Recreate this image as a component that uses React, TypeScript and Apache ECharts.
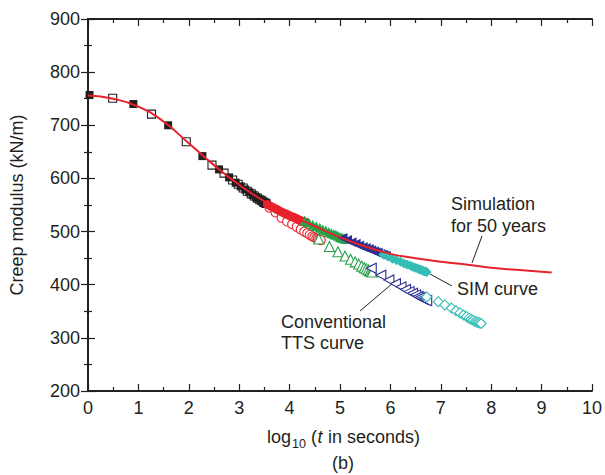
import React, { useEffect, useRef } from "react";
import * as echarts from "echarts";

// ---- data (x = log10 t, y = creep modulus kN/m) ----
const simLine: [number, number][] = [
  [0, 756], [0.5, 750], [1, 735], [1.5, 707], [2, 666], [2.5, 625], [3, 588],
  [3.5, 557], [4, 532], [4.5, 510], [5, 489], [5.5, 472], [6, 458], [6.5, 450],
  [7, 443], [7.5, 438], [8, 432], [8.5, 428], [9, 424.5], [9.2, 423],
];
const blackFilled: [number, number][] = [
  [0.03, 757], [0.9, 740], [1.59, 700], [2.27, 642], [2.6, 617], [2.8, 602],
  [2.93, 592], [3.03, 585], [3.12, 579], [3.2, 574], [3.27, 569], [3.33, 565],
  [3.38, 562], [3.43, 559], [3.47, 556], [3.51, 554], [3.54, 552],
];
const blackOpen: [number, number][] = [
  [0.49, 751], [1.26, 721], [1.95, 669], [2.46, 625], [2.7, 610], [2.87, 597],
  [2.98, 589], [3.08, 582], [3.16, 576], [3.24, 571], [3.3, 567], [3.36, 563],
  [3.41, 560], [3.45, 558], [3.49, 555], [3.53, 553],
];
const redFilled: [number, number][] = [
  [3.56, 551], [3.62, 548], [3.68, 545], [3.74, 542], [3.8, 539], [3.86, 536],
  [3.91, 534], [3.96, 532], [4.0, 530], [4.04, 528], [4.08, 527], [4.12, 525],
  [4.15, 524], [4.18, 522], [4.21, 521], [4.24, 520], [4.27, 519], [4.3, 518], [4.33, 517],
];
const redOpen: [number, number][] = [
  [3.6, 545], [3.72, 536], [3.84, 526], [3.95, 519], [4.05, 514], [4.14, 509],
  [4.22, 504], [4.29, 500], [4.35, 497], [4.4, 494], [4.45, 491], [4.49, 489],
  [4.53, 487], [4.56, 486], [4.59, 485], [4.62, 484],
];
const greenFilled: [number, number][] = [
  [4.3, 521], [4.38, 517], [4.46, 513], [4.53, 510], [4.6, 507], [4.66, 504],
  [4.72, 502], [4.78, 499], [4.83, 497], [4.88, 495], [4.92, 494], [4.96, 492],
  [5.0, 490], [5.03, 489], [5.06, 488], [5.09, 487], [5.12, 486],
];
const greenOpen: [number, number][] = [
  [4.58, 486], [4.79, 472], [4.96, 462], [5.1, 454], [5.21, 448], [5.3, 443],
  [5.37, 439], [5.43, 435], [5.48, 432], [5.52, 430], [5.56, 428], [5.59, 426],
  [5.62, 425], [5.64, 424],
];
const blueFilled: [number, number][] = [
  [5.05, 488], [5.14, 484], [5.23, 480], [5.31, 477], [5.38, 474], [5.45, 471],
  [5.51, 469], [5.57, 467], [5.62, 465], [5.67, 463], [5.71, 461], [5.75, 460],
  [5.79, 458], [5.82, 457], [5.85, 456], [5.88, 455], [5.91, 454],
];
const blueOpen: [number, number][] = [
  [5.62, 431], [5.81, 418], [5.97, 409], [6.1, 402], [6.21, 396], [6.3, 391],
  [6.37, 387], [6.44, 384], [6.5, 381], [6.55, 378], [6.59, 376], [6.63, 374],
  [6.66, 372], [6.69, 371], [6.72, 370],
];
const cyanFilled: [number, number][] = [
  [5.86, 457], [5.95, 453], [6.04, 449], [6.12, 446], [6.2, 443], [6.27, 440],
  [6.33, 438], [6.39, 436], [6.44, 434], [6.49, 432], [6.53, 431], [6.57, 429],
  [6.6, 428], [6.63, 427], [6.66, 426], [6.69, 425], [6.72, 424],
];
const cyanOpen: [number, number][] = [
  [6.72, 377], [6.95, 368], [7.08, 362], [7.21, 356], [7.3, 351], [7.38, 347],
  [7.45, 343], [7.51, 340], [7.56, 337], [7.6, 335], [7.64, 333], [7.68, 331],
  [7.71, 330], [7.74, 329], [7.77, 328], [7.8, 327],
];

const INK = "#231f20";
const RED = "#e8222b";
const GREEN = "#25a24a";
const BLUE = "#2b3090";
const CYAN = "#34bdb4";
const FONT = "Liberation Sans, Arial, sans-serif";

export default function App() {
  const ref = useRef<HTMLDivElement>(null);
  useEffect(() => {
    if (!ref.current) return;
    const chart = echarts.init(ref.current, null, { renderer: "svg" });

    const axisCommon = {
      axisLine: { show: true, lineStyle: { color: INK, width: 1.8 } },
      axisTick: { show: true, inside: true, length: 7, lineStyle: { color: INK, width: 1.2 } },
      minorTick: { show: true, splitNumber: 2, length: 4, lineStyle: { color: INK, width: 1.2 } },
      splitLine: { show: false },
      minorSplitLine: { show: false },
    };

    const filled = (name: string, data: [number, number][], symbol: string, size: number, color: string, rotate = 0) => ({
      name, type: "scatter", data, symbol, symbolSize: size, symbolRotate: rotate,
      itemStyle: { color, opacity: 1 }, z: 2,
    });
    const open = (name: string, data: [number, number][], symbol: string, size: number, color: string, rotate = 0) => ({
      name, type: "scatter", data, symbol, symbolSize: size, symbolRotate: rotate,
      itemStyle: { color: "#ffffff", borderColor: color, borderWidth: 1.1, opacity: 1 }, z: 2,
    });

    chart.setOption({
      animation: false,
      backgroundColor: "#ffffff",
      textStyle: { fontFamily: FONT },
      grid: { left: 87.5, right: 8, top: 19, bottom: 84 },
      xAxis: [
        {
          type: "value", min: 0, max: 10, interval: 1, position: "bottom",
          ...axisCommon,
          axisLabel: { color: INK, fontSize: 18, fontFamily: FONT, margin: 8 },
        },
        {
          type: "value", min: 0, max: 10, interval: 1, position: "top",
          ...axisCommon,
          axisLabel: { show: false },
        },
      ],
      yAxis: [
        {
          type: "value", min: 200, max: 900, interval: 100, position: "left",
          ...axisCommon,
          axisLabel: { color: INK, fontSize: 18, fontFamily: FONT, margin: 8 },
          name: "Creep modulus (kN/m)",
          nameLocation: "middle",
          nameGap: 62,
          nameTextStyle: { color: INK, fontSize: 18, fontFamily: FONT },
        },
        {
          type: "value", min: 200, max: 900, interval: 100, position: "right",
          ...axisCommon,
          axisLabel: { show: false },
        },
      ],
      series: [
        open("Black open", blackOpen, "rect", 8, INK),
        filled("Black filled", blackFilled, "rect", 8, INK),
        open("Red open", redOpen, "circle", 9, RED),
        filled("Red filled", redFilled, "circle", 9, RED),
        open("Green open", greenOpen, "triangle", 10, GREEN),
        filled("Green filled", greenFilled, "triangle", 10, GREEN),
        open("Blue open", blueOpen, "triangle", 10, BLUE, 90),
        filled("Blue filled", blueFilled, "triangle", 10, BLUE, 90),
        open("Cyan open", cyanOpen, "diamond", 10, CYAN),
        filled("Cyan filled", cyanFilled, "diamond", 10, CYAN),
        {
          name: "Simulation", type: "line", data: simLine, smooth: true, showSymbol: false,
          lineStyle: { color: RED, width: 2 }, z: 5,
        },
      ],
      graphic: [
        {
          type: "group", left: 267, top: 428,
          children: [
            { type: "text", x: 0, y: 0, style: { text: "log", fontSize: 18, fill: INK, fontFamily: FONT } },
            { type: "text", x: 25, y: 9, style: { text: "10", fontSize: 12.5, fill: INK, fontFamily: FONT } },
            { type: "text", x: 44, y: 0, style: { text: "(", fontSize: 18, fill: INK, fontFamily: FONT } },
            { type: "text", x: 50.5, y: 0, style: { text: "t", fontSize: 18, fontStyle: "italic", fill: INK, fontFamily: FONT } },
            { type: "text", x: 56, y: 0, style: { text: " in seconds)", fontSize: 18, fill: INK, fontFamily: FONT } },
          ],
        },
        {
          type: "text", x: 343, y: 454,
          style: { text: "(b)", fontSize: 18, fill: INK, fontFamily: FONT, align: "center" },
        },
        {
          type: "text", left: 451, top: 193,
          style: { text: "Simulation\nfor 50 years", fontSize: 18, lineHeight: 22, fill: INK, fontFamily: FONT },
        },
        {
          type: "text", left: 457, top: 278,
          style: { text: "SIM curve", fontSize: 18, lineHeight: 22, fill: INK, fontFamily: FONT },
        },
        {
          type: "text", left: 281, top: 311,
          style: { text: "Conventional\nTTS curve", fontSize: 18, lineHeight: 21, fill: INK, fontFamily: FONT },
        },
        { type: "line", shape: { x1: 482, y1: 236, x2: 472, y2: 263 }, style: { stroke: INK, lineWidth: 1 } },
        { type: "line", shape: { x1: 430, y1: 274, x2: 452, y2: 286 }, style: { stroke: INK, lineWidth: 1 } },
        { type: "line", shape: { x1: 360, y1: 311, x2: 393, y2: 283 }, style: { stroke: INK, lineWidth: 1 } },
      ],
    });
    return () => chart.dispose();
  }, []);
  return <div ref={ref} style={{ position: "fixed", left: 0, top: 0, width: 605, height: 475 }} />;
}
